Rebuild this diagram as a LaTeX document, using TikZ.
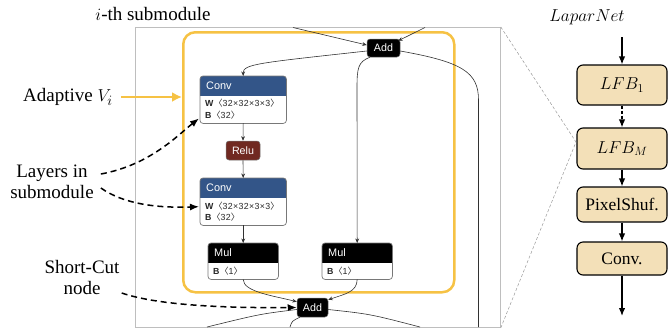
\documentclass[tikz,border=0pt]{standalone}
\usepackage{fontspec}
\setmainfont{Liberation Serif}
\newfontfamily\uifont[LetterSpace=4]{Liberation Sans}
\newfontfamily\headfont{Liberation Sans}
\newfontfamily\cjk{Noto Sans CJK SC}
\usetikzlibrary{arrows.meta,calc}

\definecolor{convblue}{RGB}{51,85,136}
\definecolor{relured}{RGB}{112,41,33}
\definecolor{hiyellow}{RGB}{246,194,68}
\definecolor{framegray}{RGB}{190,190,190}
\definecolor{wheat}{RGB}{243,224,184}
\definecolor{edgegray}{RGB}{50,50,50}
\definecolor{bordergray}{RGB}{120,120,120}

\tikzset{
  flow/.style={draw=edgegray, line width=0.6pt, -{Stealth[length=4.5pt,width=3.8pt]}},
  flowline/.style={draw=edgegray, line width=0.6pt},
  opnode/.style={fill=#1, rounded corners=3pt, text=white, font=\headfont\fontsize{10.7}{12}\selectfont,
    inner sep=0pt, draw=bordergray, line width=0.5pt},
  headtext/.style={text=white, font=\headfont\fontsize{10.9}{12}\selectfont, inner sep=0pt},
  bodytext/.style={text=black!85, font=\uifont\fontsize{8.8}{10}\selectfont, inner sep=0pt},
  label/.style={font=\fontsize{19}{21}\selectfont, inner sep=2pt},
  pointer/.style={line width=1.5pt, dash pattern=on 6pt off 4pt, -{Latex[length=9pt,width=7pt]}},
  yarrow/.style={draw=hiyellow, line width=2.5pt, -{Latex[length=10pt,width=10pt]}},
  lfb/.style={draw=black, fill=wheat, line width=1.1pt, rounded corners=6pt, minimum width=90pt,
    inner sep=0pt, font=\fontsize{17.5}{20}\selectfont},
  netarrow/.style={line width=1.3pt, -{Latex[length=8pt,width=6.5pt]}},
}

% Layer box: name, x, y (top left), width, height, header height, header colour, title
\newcommand\layerbox[8]{%
  \node[minimum width=#4pt, minimum height=#5pt, anchor=north west, inner sep=0pt] (#1) at (#2,#3) {};
  \begin{scope}
    \clip[rounded corners=3pt] (#1.north west) rectangle (#1.south east);
    \fill[white] (#1.north west) rectangle (#1.south east);
    \fill[#7] (#1.north west) rectangle ($(#1.north east)+(0,-#6pt)$);
  \end{scope}
  \draw[bordergray, line width=0.7pt, rounded corners=3pt] (#1.north west) rectangle (#1.south east);
  \node[headtext, anchor=west] (#1-title) at ($(#1.north west)+(6pt,-#6pt/2)$) {#8};
}
\newcommand\lb{{\cjk 〈}}
\newcommand\rb{{\cjk 〉}}

\begin{document}
\begin{tikzpicture}[x=1pt, y=-1pt]
\useasboundingbox (0,0) rectangle (668,335);

% submodule frame and highlighted group
\node[draw=framegray, line width=0.8pt, minimum width=365pt, minimum height=300pt,
  anchor=north west, inner sep=0pt] (frame) at (135,27) {};
\node[draw=hiyellow, line width=2.5pt, rounded corners=12pt, minimum width=271pt,
  minimum height=260pt, anchor=north west, inner sep=0pt] (sub) at (182,31) {};

% layers
\layerbox{conv1}{200}{76}{86}{47}{20}{convblue}{Conv}
\node[bodytext, anchor=west] (conv1-w) at (205,103.5) {\textbf{W}\lb 32×32×3×3\rb};
\node[bodytext, anchor=west] (conv1-b) at (205,115) {\textbf{B}\lb 32\rb};

\node[opnode=relured, minimum width=34pt, minimum height=19pt] (relu) at (243,150.5) {Relu};

\layerbox{conv2}{200}{178}{86}{47}{20}{convblue}{Conv}
\node[bodytext, anchor=west] (conv2-w) at (205,206) {\textbf{W}\lb 32×32×3×3\rb};
\node[bodytext, anchor=west] (conv2-b) at (205,217) {\textbf{B}\lb 32\rb};

\layerbox{mul1}{208}{243}{70}{36}{20}{black}{Mul}
\node[bodytext, anchor=west] (mul1-b) at (213,271.5) {\textbf{B}\lb 1\rb};

\layerbox{mul2}{322}{243}{70}{36}{20}{black}{Mul}
\node[bodytext, anchor=west] (mul2-b) at (327,271.5) {\textbf{B}\lb 1\rb};

\node[opnode=black, minimum width=33pt, minimum height=18pt] (add1) at (383.5,48) {Add};
\node[opnode=black, minimum width=31pt, minimum height=19pt] (add2) at (312.5,307.5) {Add};

% edges of the submodule graph
\coordinate (inA) at (293,27.5);
\coordinate (inB) at (425,27.5);
\coordinate (outR) at (478.5,327);
\coordinate (outL) at (207,327);
\coordinate (outM) at (420,327);
\coordinate (outD) at (290,327);

\draw[flow] (inA) -- ($(add1.west)+(0,3pt)$);
\draw[flow] (inB) -- ($(add1.north east)+(-2pt,-2pt)$);
\draw[flow] ($(add1.west)+(0,-3pt)$) .. controls (258,63) and (243,64) .. (conv1.north);
\draw[flow] ($(add1.south west)+(3pt,0)$) .. controls (358,62) and (357,68) .. (357,88) -- (mul2.north);
\draw[flowline] ($(add1.east)+(0,-3pt)$) .. controls (462,62) and (478.5,72) .. (478.5,100) -- (outR);
\draw[flow] (conv1.south) -- (relu.north);
\draw[flow] (relu.south) -- (conv2.north);
\draw[flow] (conv2.south) -- (mul1.north);
\draw[flow] (mul1.south) .. controls (243,292) and (275,296) .. ($(add2.north west)+(0,-4pt)$);
\draw[flow] (mul2.south) .. controls (357,292) and (345,294) .. ($(add2.north east)+(0,-2pt)$);
\draw[flowline] ($(add2.west)+(0,-2pt)$) .. controls (260,314) .. (outL);
\draw[flowline] ($(add2.east)+(0,-2pt)$) .. controls (370,314) .. (outM);
\draw[flowline] ($(add2.south west)+(3pt,0)$) .. controls (292,321) .. (outD);

% annotations
\node[label] (subtitle) at (153,14) {$i$-th submodule};
\node[label] (adapt) at (68,97) {Adaptive $V_i$};
\node[label, align=center] (layers) at (52,182) {Layers in\\submodule};
\node[label, align=center] (shortcut) at (82,277) {Short-Cut\\node};

\draw[yarrow] ($(adapt.east)+(6pt,0)$) -- (sub.west |- adapt.east);
\draw[pointer] ($(layers.east)+(5pt,8pt)$) .. controls (150,165) and (178,135) .. ($(conv1.south west)+(-1pt,5pt)$);
\draw[pointer] ($(layers.east)+(5pt,-6pt)$) .. controls (125,205) and (160,208) .. ($(conv2.west)+(-1pt,-5pt)$);
\draw[pointer] ($(shortcut.east)+(0,-16pt)$) .. controls (160,306) and (230,308) .. (add2.west);

% network overview
\node[font=\fontsize{19}{21}\selectfont] (lapar) at (587,17) {$LaparNet$};
\node[lfb, minimum height=40pt] (lfb1) at (622,85) {$LFB_1$};
\node[lfb, minimum height=41pt] (lfbm) at (622,148.5) {$LFB_M$};
\node[lfb, minimum height=35pt] (pix) at (622,204.5) {PixelShuf.};
\node[lfb, minimum height=33pt] (convr) at (622,258.5) {Conv.};
\coordinate (netin) at (622,37);
\coordinate (netout) at (622,316);
\draw[netarrow] (netin) -- (lfb1.north);
\draw[netarrow, dash pattern=on 3pt off 2pt] (lfb1.south) -- (lfbm.north);
\draw[netarrow] (lfbm.south) -- (pix.north);
\draw[netarrow] (pix.south) -- (convr.north);
\draw[netarrow] (convr.south) -- (netout);

% zoom lines
\coordinate (zoomtip) at (576,142);
\draw[framegray!80!black, line width=0.5pt, dash pattern=on 3pt off 2pt] (frame.north east) -- (zoomtip) -- (frame.south east);
\end{tikzpicture}
\end{document}
